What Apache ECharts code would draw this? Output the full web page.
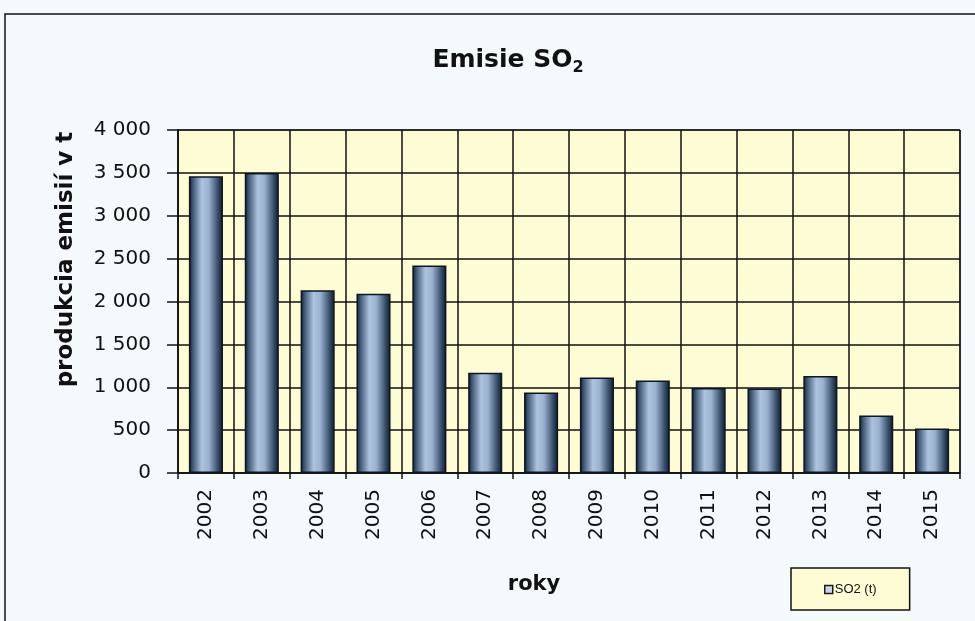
<!DOCTYPE html>
<html>
<head>
<meta charset="utf-8">
<script src="https://cdn.jsdelivr.net/npm/echarts@6/dist/echarts.min.js"></script>
<style>
html,body{margin:0;padding:0;background:#f4f9fb;}
#c{width:975px;height:621px;}
</style>
</head>
<body>
<div id="c"></div>
<script>
const years = ['2002','2003','2004','2005','2006','2007','2008','2009','2010','2011','2012','2013','2014','2015'];
const so2 = [3460, 3500, 2130, 2090, 2420, 1170, 940, 1115, 1080, 990, 985, 1130, 670, 520];
const yTicks = [0, 500, 1000, 1500, 2000, 2500, 3000, 3500, 4000];
const seriesName = 'SO2 (t)';

const chart = echarts.init(document.getElementById('c'));
const barGrad = new echarts.graphic.LinearGradient(0, 0, 1, 0, [
  {offset: 0, color: '#111a28'},
  {offset: 0.12, color: '#435a78'},
  {offset: 0.38, color: '#adc4e0'},
  {offset: 0.58, color: '#9ab2d0'},
  {offset: 0.86, color: '#354a66'},
  {offset: 1, color: '#0f1724'}
]);
chart.setOption({
  backgroundColor: '#f4f9fb',
  animation: false,
  title: {
    text: '{t|Emisie SO}{s|2}',
    left: 503, top: 40, textAlign: 'center',
    textStyle: {
      rich: {
        t: {fontFamily: 'DejaVu Sans', fontWeight: 'bold', fontSize: 25, color: '#111'},
        s: {fontFamily: 'DejaVu Sans', fontWeight: 'bold', fontSize: 16, color: '#111', padding: [15, 0, 0, 0]}
      }
    }
  },
  graphic: [{
    type: 'rect', shape: {x: 5, y: 14, width: 975, height: 615},
    style: {fill: 'none', stroke: '#111', lineWidth: 1.5}, silent: true, z: 100
  }],
  legend: {
    data: [seriesName],
    left: 791, top: 568,
    padding: [15, 33, 14, 33],
    backgroundColor: '#fdfcd4',
    borderColor: '#111', borderWidth: 1.5,
    icon: 'rect', itemWidth: 8, itemHeight: 8, itemGap: 2,
    itemStyle: {color: '#c8d6ea', borderColor: '#1a1a1a', borderWidth: 1.5},
    textStyle: {fontFamily: 'Liberation Sans', fontSize: 13, color: '#111', padding: [0, 0, 0, -3]}
  },
  grid: {left: 178, right: 15, top: 130, bottom: 148, show: true, backgroundColor: '#fdfcd4', borderColor: '#111', borderWidth: 1},
  xAxis: {
    type: 'category', data: years,
    name: 'roky', nameLocation: 'middle', nameGap: 101,
    nameTextStyle: {fontFamily: 'DejaVu Sans', fontWeight: 'bold', fontSize: 21, color: '#111', padding: [0, 70, 0, 0]},
    axisLine: {lineStyle: {color: '#111', width: 1.5}},
    axisTick: {show: true, length: 6, lineStyle: {color: '#111', width: 1.5}},
    axisLabel: {rotate: 90, margin: 16, fontFamily: 'DejaVu Sans', fontSize: 20, color: '#111'},
    splitLine: {show: true, lineStyle: {color: '#111', width: 1.5}}
  },
  yAxis: {
    type: 'value', min: 0, max: 4000, interval: 500,
    name: 'produkcia emisií v t', nameLocation: 'middle', nameGap: 100,
    nameTextStyle: {fontFamily: 'DejaVu Sans', fontWeight: 'bold', fontSize: 23, color: '#111', padding: [0, 0, 0, 84]},
    axisLine: {show: true, lineStyle: {color: '#111', width: 1.5}},
    axisTick: {show: true, length: 11, lineStyle: {color: '#111', width: 1.5}},
    axisLabel: {
      margin: 27, fontFamily: 'DejaVu Sans', fontSize: 20, color: '#111',
      formatter: v => yTicks.includes(v) ? (v >= 1000 ? Math.floor(v/1000) + ' ' + String(v % 1000).padStart(3, '0') : String(v)) : ''
    },
    splitLine: {show: true, lineStyle: {color: '#111', width: 1.5}}
  },
  series: [{
    name: seriesName, type: 'bar', data: so2, barWidth: '61%',
    itemStyle: {color: barGrad, borderColor: '#0e1622', borderWidth: 1.5}
  }]
});
</script>
</body>
</html>
